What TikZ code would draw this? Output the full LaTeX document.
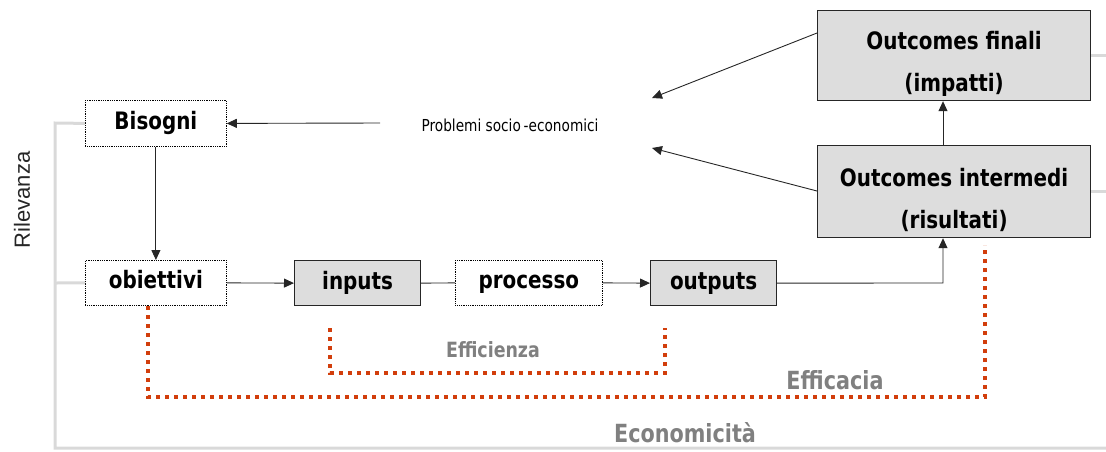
\documentclass[tikz,border=0pt]{standalone}
\usepackage{fontspec}
\setmainfont{DejaVu Sans}[FakeStretch=0.83]
\newfontfamily\arialf{Liberation Sans}
\usetikzlibrary{arrows.meta}
\definecolor{boxgray}{HTML}{DDDDDD}
\definecolor{framegray}{HTML}{D9D9D9}
\definecolor{redd}{RGB}{210,62,12}
\definecolor{txtgray}{HTML}{808080}
\tikzset{
  base/.style={anchor=north west, inner sep=0pt, font=\bfseries\fontsize{24}{29}\selectfont, text=black},
  oneline/.style={text height=17pt, text depth=5pt},
  dotbox/.style={base, oneline, draw=black, densely dotted, line width=0.8pt},
  graybox/.style={base, draw=black!85, fill=boxgray, line width=1.2pt},
  boxtext/.style={inner sep=0pt, font=\bfseries\fontsize{24}{29}\selectfont, align=center},
  conn/.style={draw=black!85, line width=0.9pt},
  arr/.style={conn, -{Triangle[length=10pt,width=9pt]}},
  frame/.style={draw=framegray, line width=3pt},
  reddot/.style={draw=redd, line width=4pt, dash pattern=on 4pt off 5pt},
  lbl/.style={font=\bfseries\fontsize{25}{30}\selectfont, text=txtgray, inner sep=0pt}
}
\begin{document}
\begin{tikzpicture}[x=1pt,y=-1pt]
\useasboundingbox (0,0) rectangle (1106,451);
% nodes
\node[dotbox, minimum width=141pt, minimum height=46pt] (bis) at (85,100) {Bisogni};
\node[dotbox, minimum width=141pt, minimum height=45pt] (obi) at (85,260) {obiettivi};
\node[graybox, oneline, minimum width=126pt, minimum height=45pt] (inp) at (294,260) {inputs};
\node[dotbox, minimum width=147pt, minimum height=45pt] (pro) at (455,260) {processo};
\node[graybox, oneline, minimum width=126pt, minimum height=45pt] (out) at (650,260) {outputs};
\node[graybox, minimum width=273pt, minimum height=90pt] (fin) at (817,10) {};
\node[boxtext] (fint) at ([yshift=-8pt]fin.center) {Outcomes finali\\[13pt](impatti)};
\node[graybox, minimum width=273pt, minimum height=92pt] (int) at (817,145) {};
\node[boxtext] (intt) at ([yshift=-8pt]int.center) {Outcomes intermedi\\[13pt](risultati)};
\node[inner sep=0pt, font=\fontsize{16.5}{19}\selectfont] (prob) at (510,125) {Problemi socio\,-economici};
\node[inner sep=0pt, rotate=90, font=\arialf\fontsize{22}{26}\selectfont, text=black!85] (ril) at (22,200) {Rilevanza};
% gray frame
\coordinate (fa) at (55,123);
\coordinate (fb) at (55,448);
\coordinate (fc) at (1106,448);
\coordinate (fo) at (55,283);
\draw[frame] (bis.west) -- (fa) -- (fb) -- (fc);
\draw[frame] (obi.west) -- (fo);
\draw[frame] (fin.east) -- ++(16,0);
\draw[frame] (int.east) -- ++(16,0);
% connectors
\coordinate (pa) at (380,123);
\draw[arr] (pa) -- (bis.east);
\coordinate (fe) at (652,98);
\coordinate (ie) at (652,148);
\draw[arr] (fin.west |- 0,33) -- (fe);
\draw[arr] (int.west |- 0,191) -- (ie);
\draw[arr] (bis.south) -- (obi.north);
\draw[arr] (obi.east) -- (inp.west);
\draw[conn] (inp.east) -- (pro.west);
\draw[arr] (pro.east) -- (out.west);
\draw[arr] (out.east) -- (943,283) -- (int.south -| 943,0);
\draw[arr] (int.north -| 943,0) -- (fin.south -| 943,0);
% red dotted
\coordinate (e1) at (330,328);
\coordinate (e2) at (665,328);
\draw[reddot] (e1) -- (330,373) -- (665,373) -- (e2);
\coordinate (c1) at (148,306);
\coordinate (c2) at (985,245);
\draw[reddot] (c1) -- (148,397) -- (985,397) -- (c2);
% labels
\node[lbl, font=\bfseries\fontsize{21}{25}\selectfont] (eff) at (493,350) {Efficienza};
\node[lbl] (efc) at (835,380) {Efficacia};
\node[lbl] (eco) at (685,433) {Economicità};
\end{tikzpicture}
\end{document}
